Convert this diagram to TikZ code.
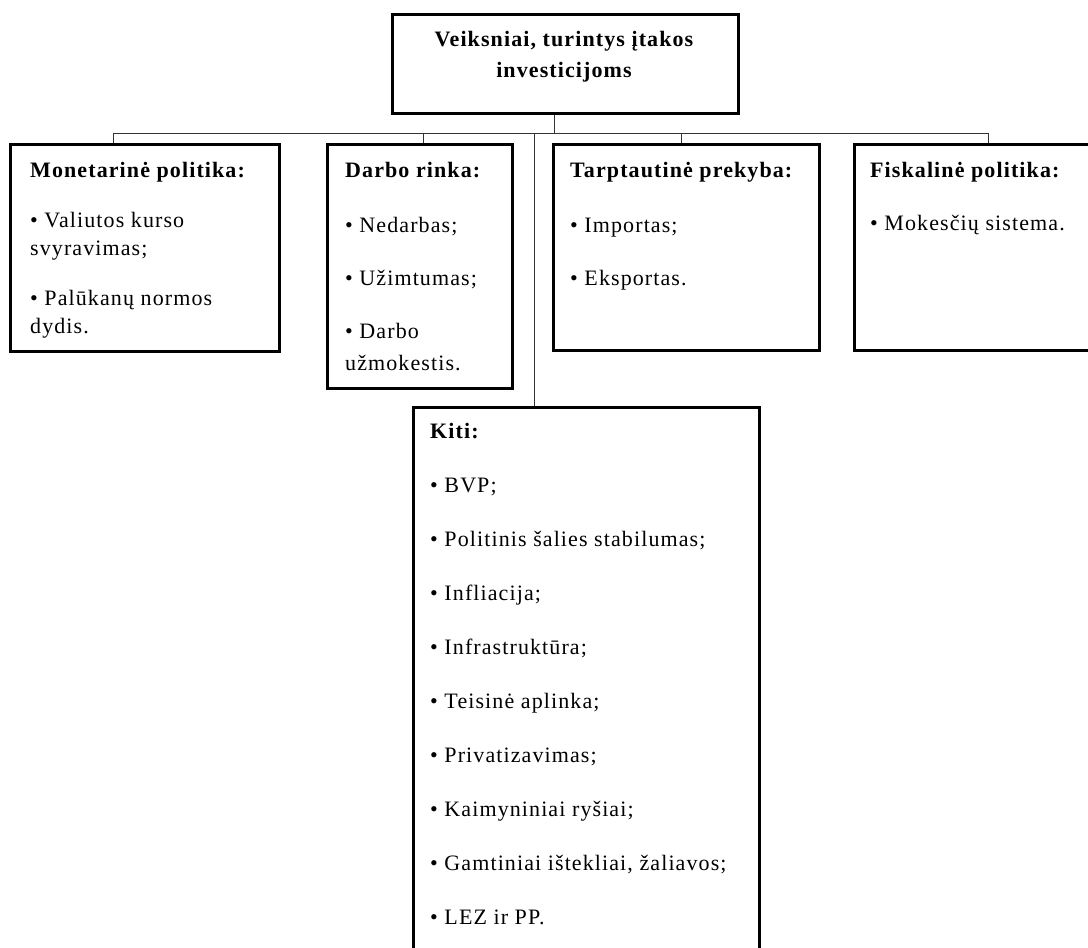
\documentclass[tikz,border=0pt]{standalone}
\usepackage{fontspec}
\setmainfont{Liberation Serif}[LetterSpace=5]
\usetikzlibrary{calc}
\newcommand{\firstline}{\rule{0pt}{17pt}}

\begin{document}
\begin{tikzpicture}[
    x=1pt, y=-1pt,
    font=\fontsize{22}{28}\selectfont,
    box/.style={draw, line width=3.2pt, anchor=north west, inner sep=0pt},
    txt/.style={anchor=north west, align=left, inner sep=0pt},
    link/.style={line width=1.3pt, black!80},
]
\useasboundingbox (0,0) rectangle (1088,948);

% --- pagrindinis blokas ---
\node[box, minimum width=346, minimum height=99] (title) at (391,13) {};
\node[txt, anchor=north, align=center, font=\fontsize{22}{31}\selectfont\bfseries] (titleTxt) at (564,29)
    {\firstline Veiksniai, turintys įtakos\\ investicijoms};

% --- veiksniu grupes (teksto virsus = bazine linija - 17) ---
\node[box, minimum width=269, minimum height=207] (mon) at (9,143) {};
\node[txt] (monTxt) at (30,160)
    {\firstline\textbf{Monetarinė politika:}\\[22pt] • Valiutos kurso\\ svyravimas;\\[22pt] • Palūkanų normos\\ dydis.};

\node[box, minimum width=185, minimum height=244] (darbo) at (326,143) {};
\node[txt] (darboTxt) at (345,160)
    {\firstline\textbf{Darbo rinka:}\\[27pt] • Nedarbas;\\[25pt] • Užimtumas;\\[25pt] • Darbo\\[4pt] užmokestis.};

\node[box, minimum width=266, minimum height=206] (tarpt) at (552,143) {};
\node[txt] (tarptTxt) at (570,160)
    {\firstline\textbf{Tarptautinė prekyba:}\\[27pt] • Importas;\\[25pt] • Eksportas.};

\node[box, minimum width=268, minimum height=206] (fisk) at (853,143) {};
\node[txt] (fiskTxt) at (870,160)
    {\firstline\textbf{Fiskalinė politika:}\\[25pt] • Mokesčių sistema.};

% --- kiti veiksniai ---
\node[box, minimum width=346, minimum height=560] (kiti) at (412,406) {};
\node[txt] (kitiTxt) at (430,421)
    {\firstline\textbf{Kiti:}\\[26pt] • BVP;\\[26pt] • Politinis šalies stabilumas;\\[26pt] • Infliacija;\\[26pt]
     • Infrastruktūra;\\[26pt] • Teisinė aplinka;\\[26pt] • Privatizavimas;\\[26pt]
     • Kaimyniniai ryšiai;\\[26pt] • Gamtiniai ištekliai, žaliavos;\\[26pt] • LEZ ir PP.};

% jungtys
\coordinate (hub) at ($(title.south west)!0.468!(title.south east) + (0,18)$);
\draw[link] ($(title.south west)!0.468!(title.south east)$) -- (hub);
\foreach \n/\f in {mon/0.383, darbo/0.519, tarpt/0.481, fisk/0.5, kiti/0.35}
    \draw[link] ($(\n.north west)!\f!(\n.north east)$) |- (hub);

\end{tikzpicture}
\end{document}
